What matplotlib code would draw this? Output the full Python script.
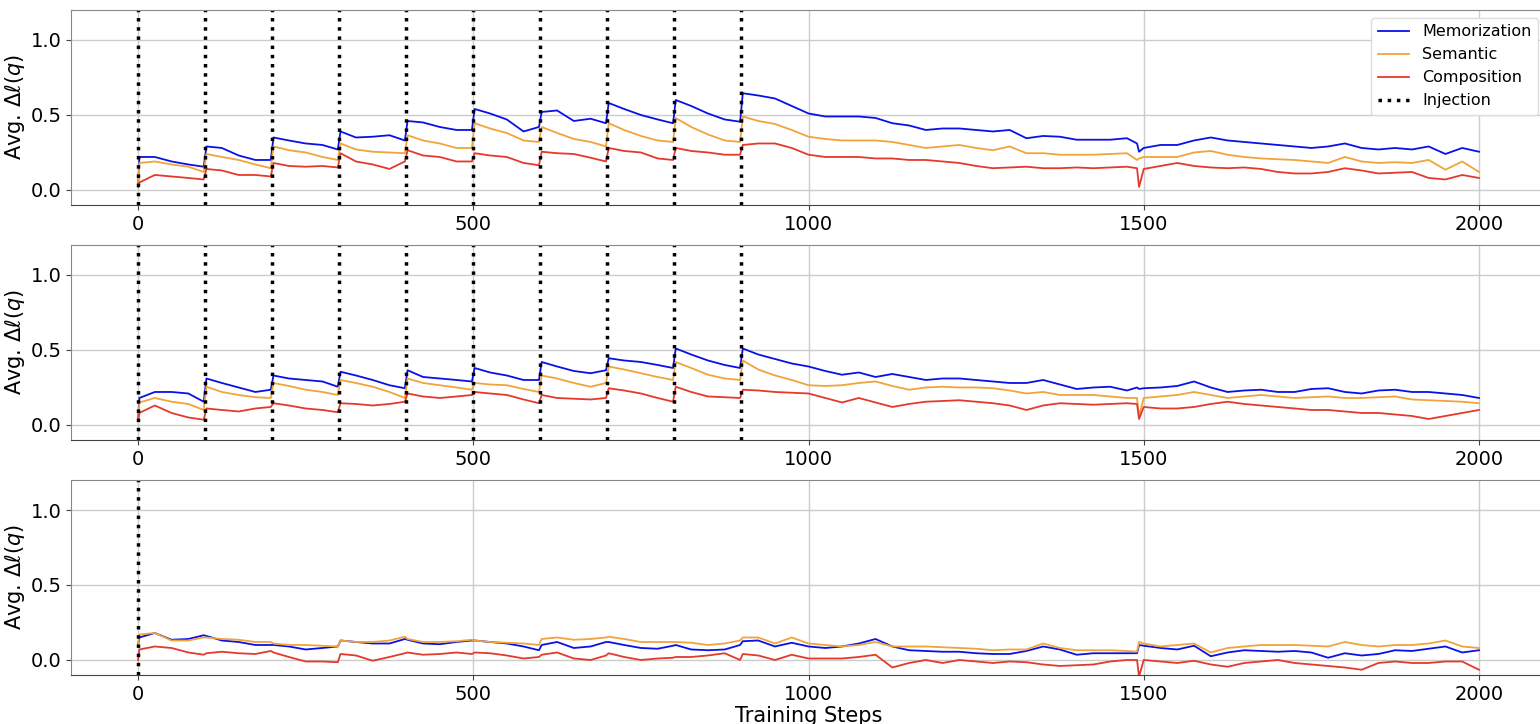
import matplotlib
matplotlib.use('Agg')
import matplotlib.pyplot as plt

STEPS = [0, 2, 25, 50, 75, 98,
         102, 125, 150, 175, 198,
         202, 225, 250, 275, 298,
         302, 325, 350, 375, 398,
         402, 425, 450, 475, 498,
         502, 525, 550, 575, 598,
         602, 625, 650, 675, 698,
         702, 725, 750, 775, 798,
         802, 825, 850, 875, 898,
         902, 925, 950, 975, 1000,
         1025, 1050, 1075, 1100, 1125, 1150, 1175, 1200, 1225, 1250,
         1275, 1300, 1325, 1350, 1375, 1400, 1425, 1450, 1475, 1490, 1493,
         1500, 1525, 1550, 1575, 1600, 1625, 1650, 1675, 1700, 1725,
         1750, 1775, 1800, 1825, 1850, 1875, 1900, 1925, 1950, 1975, 2000]

# panel 1
mem_1 = [0.02, 0.22, 0.22, 0.19, 0.17, 0.155,
         0.29, 0.28, 0.23, 0.20, 0.20,
         0.35, 0.33, 0.31, 0.30, 0.27,
         0.39, 0.35, 0.355, 0.365, 0.33,
         0.46, 0.45, 0.42, 0.40, 0.40,
         0.54, 0.51, 0.47, 0.39, 0.42,
         0.52, 0.53, 0.46, 0.475, 0.445,
         0.58, 0.54, 0.50, 0.47, 0.445,
         0.60, 0.56, 0.51, 0.47, 0.455,
         0.645, 0.63, 0.61, 0.56, 0.51,
         0.49, 0.49, 0.49, 0.48, 0.445, 0.43, 0.40, 0.41, 0.41, 0.40,
         0.39, 0.40, 0.345, 0.36, 0.355, 0.335, 0.335, 0.335, 0.345, 0.31, 0.255,
         0.28, 0.30, 0.30, 0.33, 0.35, 0.33, 0.32, 0.31, 0.30, 0.29,
         0.28, 0.29, 0.31, 0.28, 0.27, 0.28, 0.27, 0.29, 0.24, 0.28, 0.255]
sem_1 = [0.02, 0.18, 0.19, 0.17, 0.155, 0.12,
         0.24, 0.22, 0.20, 0.17, 0.145,
         0.29, 0.265, 0.25, 0.22, 0.20,
         0.31, 0.27, 0.255, 0.25, 0.245,
         0.365, 0.33, 0.31, 0.28, 0.28,
         0.445, 0.41, 0.38, 0.33, 0.32,
         0.42, 0.38, 0.34, 0.32, 0.29,
         0.445, 0.40, 0.36, 0.33, 0.32,
         0.48, 0.42, 0.37, 0.33, 0.32,
         0.49, 0.46, 0.44, 0.40, 0.355,
         0.34, 0.33, 0.33, 0.33, 0.32, 0.30, 0.28, 0.29, 0.30, 0.28,
         0.265, 0.29, 0.245, 0.245, 0.235, 0.235, 0.235, 0.24, 0.245, 0.20, 0.21,
         0.22, 0.22, 0.22, 0.25, 0.26, 0.235, 0.22, 0.21, 0.205, 0.20,
         0.19, 0.18, 0.22, 0.19, 0.18, 0.185, 0.18, 0.20, 0.135, 0.19, 0.12]
comp_1 = [0.02, 0.05, 0.10, 0.09, 0.08, 0.07,
          0.14, 0.13, 0.10, 0.10, 0.09,
          0.18, 0.16, 0.155, 0.16, 0.15,
          0.245, 0.19, 0.17, 0.14, 0.19,
          0.265, 0.23, 0.22, 0.19, 0.19,
          0.245, 0.23, 0.22, 0.18, 0.165,
          0.255, 0.245, 0.24, 0.215, 0.19,
          0.28, 0.26, 0.25, 0.21, 0.20,
          0.28, 0.26, 0.25, 0.235, 0.235,
          0.30, 0.31, 0.31, 0.28, 0.235,
          0.22, 0.22, 0.22, 0.21, 0.21, 0.20, 0.20, 0.19, 0.18, 0.16,
          0.145, 0.15, 0.155, 0.145, 0.145, 0.15, 0.145, 0.15, 0.155, 0.145, 0.02,
          0.14, 0.16, 0.18, 0.16, 0.15, 0.145, 0.15, 0.14, 0.12, 0.11,
          0.11, 0.12, 0.145, 0.13, 0.11, 0.115, 0.12, 0.08, 0.07, 0.10, 0.08]

# panel 2
mem_2 = [0.03, 0.18, 0.22, 0.22, 0.21, 0.155,
         0.31, 0.28, 0.25, 0.22, 0.235,
         0.33, 0.31, 0.30, 0.29, 0.255,
         0.355, 0.33, 0.30, 0.265, 0.245,
         0.365, 0.32, 0.31, 0.30, 0.29,
         0.38, 0.35, 0.33, 0.30, 0.30,
         0.42, 0.39, 0.36, 0.345, 0.365,
         0.445, 0.43, 0.42, 0.40, 0.38,
         0.51, 0.47, 0.43, 0.40, 0.38,
         0.51, 0.47, 0.44, 0.41, 0.39,
         0.36, 0.335, 0.35, 0.32, 0.34, 0.32, 0.30, 0.31, 0.31, 0.30,
         0.29, 0.28, 0.28, 0.30, 0.27, 0.24, 0.25, 0.255, 0.23, 0.25, 0.24,
         0.245, 0.25, 0.26, 0.29, 0.25, 0.22, 0.23, 0.235, 0.22, 0.22,
         0.24, 0.245, 0.22, 0.21, 0.23, 0.235, 0.22, 0.22, 0.21, 0.20, 0.18]
sem_2 = [0.03, 0.15, 0.18, 0.155, 0.14, 0.10,
         0.255, 0.22, 0.20, 0.185, 0.18,
         0.28, 0.26, 0.235, 0.22, 0.20,
         0.30, 0.28, 0.255, 0.22, 0.18,
         0.31, 0.28, 0.265, 0.25, 0.235,
         0.28, 0.27, 0.265, 0.24, 0.22,
         0.33, 0.31, 0.28, 0.255, 0.28,
         0.39, 0.37, 0.345, 0.32, 0.30,
         0.42, 0.38, 0.335, 0.31, 0.30,
         0.43, 0.37, 0.33, 0.30, 0.265,
         0.26, 0.265, 0.28, 0.29, 0.26, 0.235, 0.25, 0.255, 0.25, 0.25,
         0.245, 0.23, 0.21, 0.22, 0.20, 0.20, 0.20, 0.19, 0.18, 0.18, 0.055,
         0.18, 0.19, 0.20, 0.22, 0.20, 0.18, 0.19, 0.20, 0.19, 0.18,
         0.185, 0.19, 0.18, 0.18, 0.185, 0.19, 0.17, 0.165, 0.16, 0.155, 0.145]
comp_2 = [0.03, 0.08, 0.13, 0.08, 0.05, 0.035,
          0.11, 0.10, 0.09, 0.11, 0.12,
          0.145, 0.13, 0.11, 0.10, 0.085,
          0.145, 0.14, 0.13, 0.14, 0.155,
          0.21, 0.19, 0.18, 0.19, 0.20,
          0.22, 0.21, 0.20, 0.17, 0.145,
          0.20, 0.18, 0.175, 0.17, 0.18,
          0.245, 0.23, 0.21, 0.18, 0.155,
          0.255, 0.22, 0.19, 0.185, 0.18,
          0.235, 0.23, 0.22, 0.215, 0.21,
          0.18, 0.15, 0.18, 0.15, 0.12, 0.14, 0.155, 0.16, 0.165, 0.155,
          0.145, 0.13, 0.10, 0.13, 0.145, 0.14, 0.135, 0.14, 0.145, 0.14, 0.04,
          0.12, 0.11, 0.11, 0.12, 0.14, 0.155, 0.14, 0.13, 0.12, 0.11,
          0.10, 0.10, 0.09, 0.08, 0.08, 0.07, 0.06, 0.04, 0.06, 0.08, 0.10]

# panel 3
mem_3 = [0.10, 0.15, 0.18, 0.135, 0.14, 0.165,
         0.16, 0.13, 0.12, 0.10, 0.10,
         0.10, 0.09, 0.07, 0.08, 0.09,
         0.13, 0.12, 0.11, 0.11, 0.14,
         0.135, 0.11, 0.105, 0.12, 0.13,
         0.13, 0.12, 0.11, 0.09, 0.065,
         0.10, 0.12, 0.08, 0.09, 0.12,
         0.12, 0.10, 0.08, 0.075, 0.095,
         0.10, 0.07, 0.065, 0.07, 0.10,
         0.125, 0.13, 0.09, 0.115, 0.09,
         0.08, 0.09, 0.11, 0.14, 0.09, 0.065, 0.06, 0.055, 0.055, 0.045,
         0.04, 0.04, 0.06, 0.09, 0.07, 0.035, 0.045, 0.045, 0.045, 0.045, 0.10,
         0.095, 0.08, 0.07, 0.095, 0.025, 0.05, 0.065, 0.06, 0.055, 0.06,
         0.05, 0.015, 0.045, 0.03, 0.04, 0.065, 0.06, 0.075, 0.09, 0.05, 0.065]
sem_3 = [0.10, 0.17, 0.18, 0.13, 0.13, 0.15,
         0.15, 0.14, 0.135, 0.12, 0.12,
         0.11, 0.10, 0.10, 0.095, 0.09,
         0.13, 0.12, 0.12, 0.13, 0.155,
         0.14, 0.12, 0.12, 0.125, 0.135,
         0.13, 0.12, 0.115, 0.11, 0.10,
         0.14, 0.15, 0.135, 0.14, 0.15,
         0.155, 0.14, 0.12, 0.12, 0.12,
         0.12, 0.115, 0.10, 0.11, 0.13,
         0.15, 0.15, 0.11, 0.15, 0.11,
         0.10, 0.09, 0.10, 0.12, 0.09, 0.09, 0.09, 0.085, 0.08, 0.075,
         0.065, 0.07, 0.07, 0.11, 0.08, 0.065, 0.065, 0.065, 0.06, 0.055, 0.12,
         0.11, 0.09, 0.10, 0.11, 0.05, 0.08, 0.09, 0.10, 0.10, 0.10,
         0.095, 0.09, 0.12, 0.10, 0.09, 0.10, 0.10, 0.11, 0.13, 0.09, 0.08]
comp_3 = [0.0, 0.07, 0.09, 0.08, 0.05, 0.035,
          0.045, 0.055, 0.045, 0.04, 0.06,
          0.05, 0.02, -0.01, -0.01, -0.015,
          0.04, 0.03, -0.005, 0.02, 0.045,
          0.05, 0.035, 0.04, 0.05, 0.04,
          0.05, 0.045, 0.03, 0.01, 0.02,
          0.035, 0.05, 0.01, 0.0, 0.03,
          0.045, 0.02, 0.0, 0.01, 0.015,
          0.02, 0.02, 0.03, 0.045, 0.0,
          0.04, 0.03, 0.0, 0.035, 0.01,
          0.01, 0.01, 0.02, 0.035, -0.05, -0.02, 0.0, -0.02, 0.0, -0.01,
          -0.02, -0.01, -0.015, -0.03, -0.04, -0.035, -0.03, -0.01, 0.0, 0.0, -0.11,
          0.0, -0.01, -0.02, -0.005, -0.03, -0.045, -0.02, -0.01, 0.0, -0.02,
          -0.03, -0.04, -0.05, -0.065, -0.02, -0.01, -0.02, -0.02, -0.01, -0.01, -0.065]

injections_12 = [0, 100, 200, 300, 400, 500, 600, 700, 800, 900]
injections_3 = [0]

panels = [
    (mem_1, sem_1, comp_1, injections_12),
    (mem_2, sem_2, comp_2, injections_12),
    (mem_3, sem_3, comp_3, injections_3),
]

fig = plt.figure(figsize=(15.4, 7.24), dpi=100)

# axes positions (figure fraction); right edge runs slightly past the figure
left, width, height = 0.0461, 0.9578, 0.2693
bottoms = [0.7169, 0.3923, 0.0677]

for i, (mem, sem, comp, inj) in enumerate(panels):
    ax = fig.add_axes([left, bottoms[i], width, height])
    ax.plot(STEPS, mem, color='#0a10e8', lw=1.3, label='Memorization')
    ax.plot(STEPS, sem, color='#f0a43a', lw=1.3, label='Semantic')
    ax.plot(STEPS, comp, color='#e5392c', lw=1.3, label='Composition')
    for j, s in enumerate(inj):
        ax.axvline(s, color='black', ls=':', lw=2.5,
                   label='Injection' if j == 0 else None)

    ax.set_xlim(-100, 2100)
    ax.set_ylim(-0.1, 1.2)
    ax.set_xticks([0, 500, 1000, 1500, 2000])
    ax.set_yticks([0.0, 0.5, 1.0])
    ax.tick_params(labelsize=14, color='#444444')
    ax.grid(True, color='#cccccc', lw=1)
    ax.set_axisbelow(True)
    ax.set_ylabel(r'Avg. $\Delta\ell(q)$', fontsize=15, labelpad=2)
    for side in ['top', 'left', 'right']:
        ax.spines[side].set_color('#888888')
    ax.spines['bottom'].set_color('#444444')

    if i == 0:
        ax.legend(loc='upper right', fontsize=11.5, framealpha=1,
                  edgecolor='#dddddd', handlelength=2.0)
    if i == 2:
        ax.set_xlabel('Training Steps', fontsize=15, labelpad=2)

fig.savefig('out.png', dpi=100)
